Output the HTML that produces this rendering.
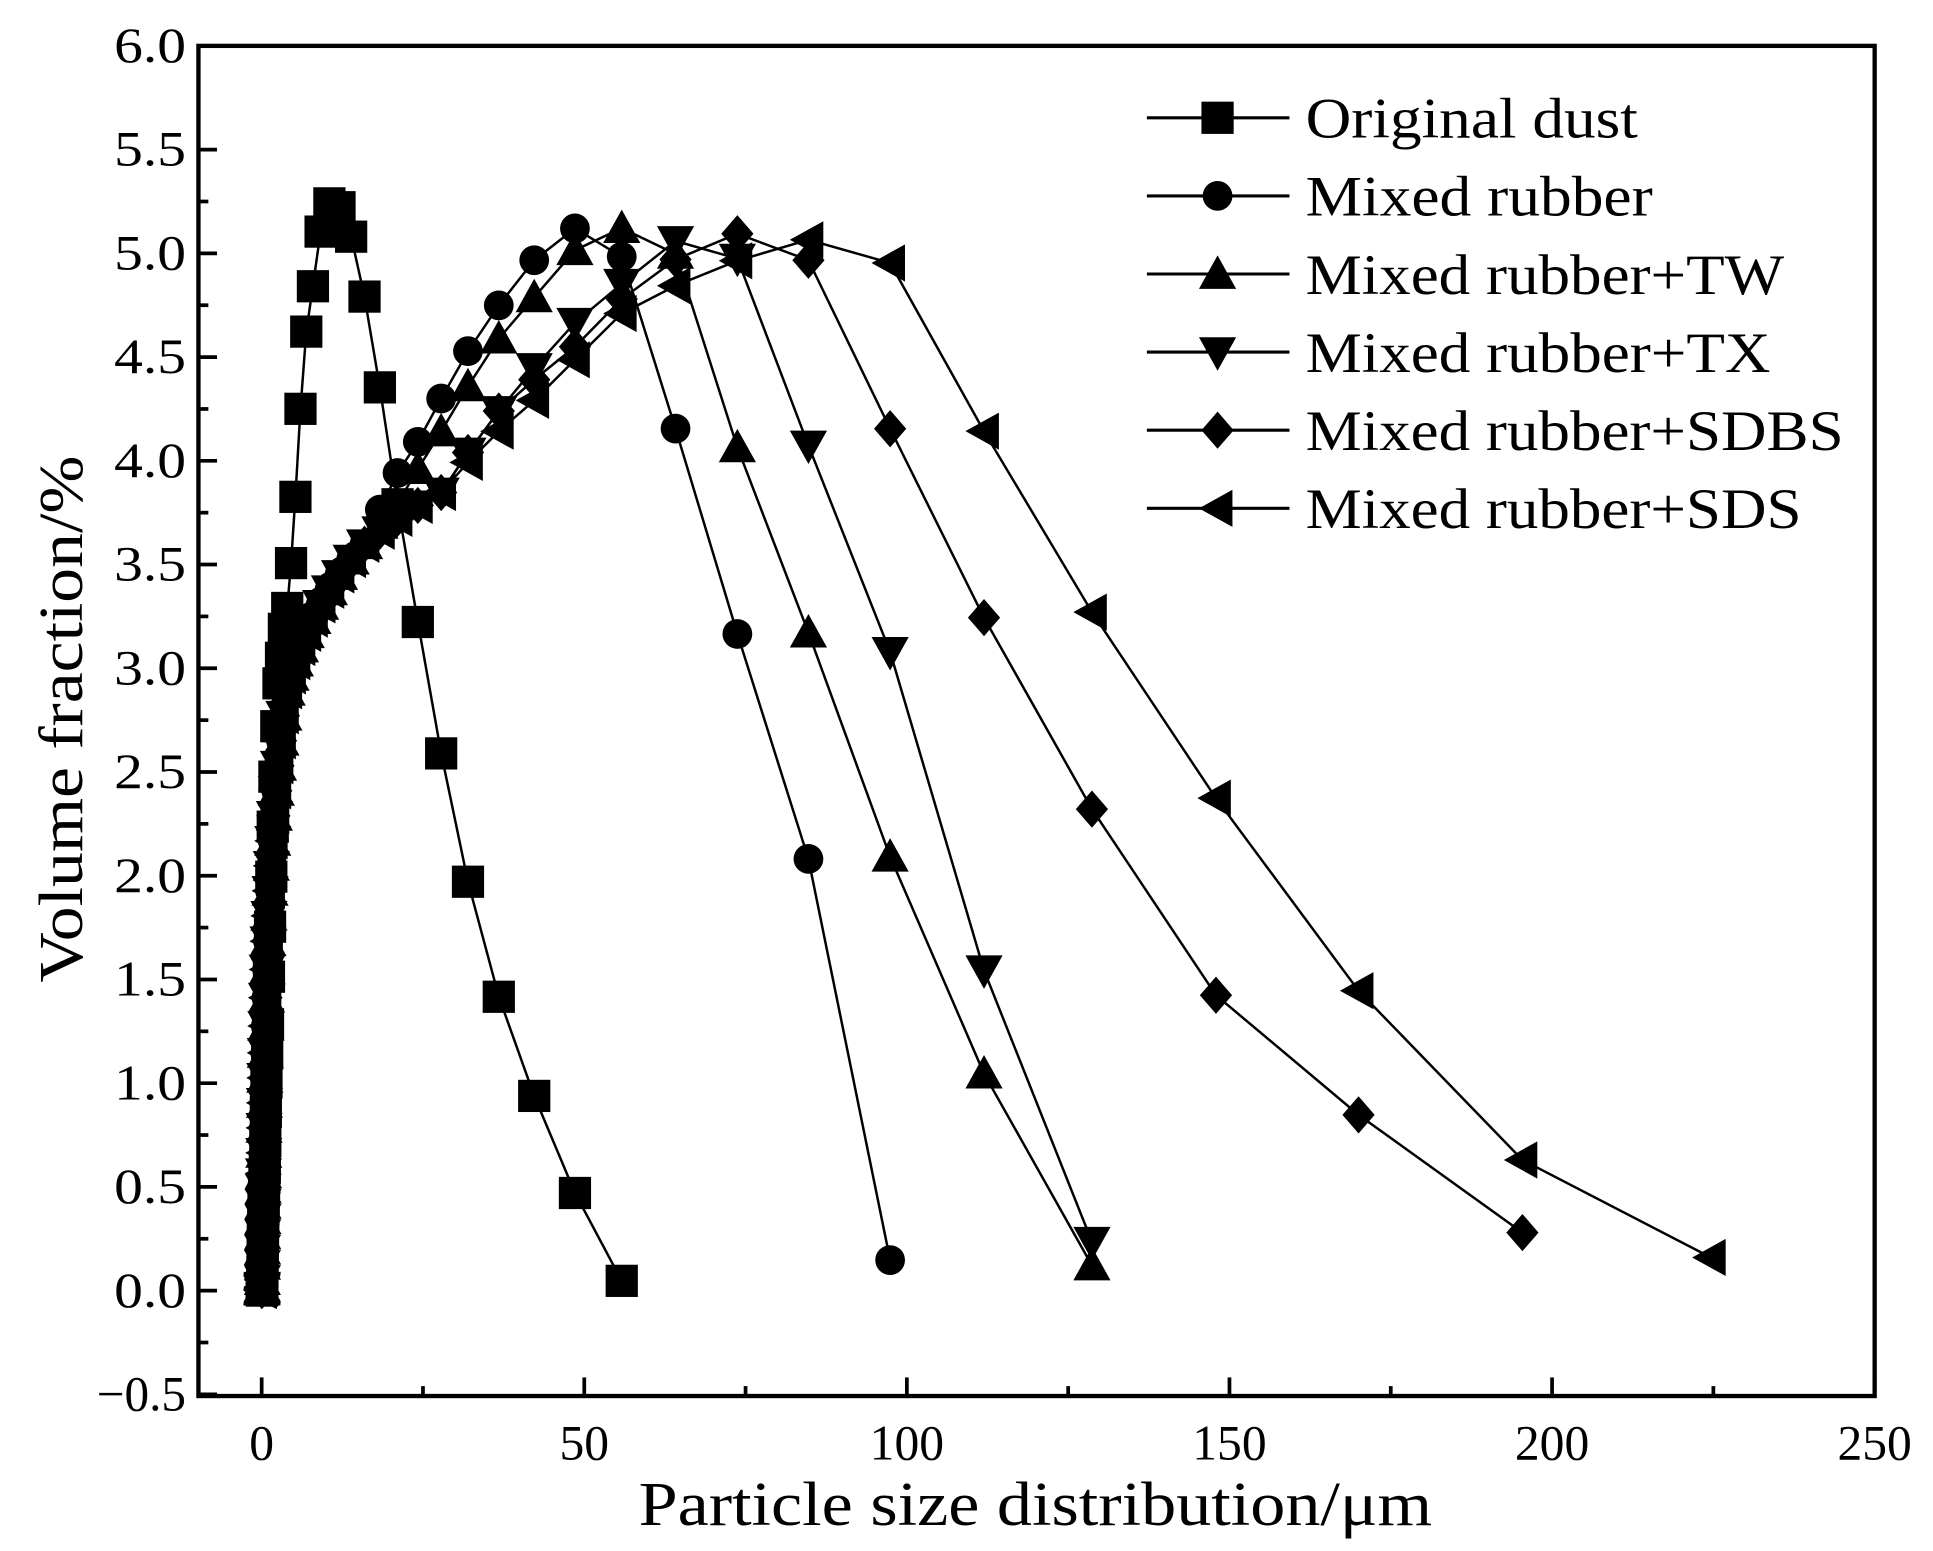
<!DOCTYPE html>
<html><head><meta charset="utf-8"><style>html,body{margin:0;padding:0;background:#fff}svg{display:block}</style></head>
<body>
<svg id="s" xmlns="http://www.w3.org/2000/svg" width="1933" height="1551" viewBox="0 0 1559 1251" font-family="'Liberation Serif', serif">
<rect width="1559" height="1251" fill="#fff"/>
<g id="plot"></g>
<rect x="160" y="37" width="1352" height="1089" fill="none" stroke="#000" stroke-width="3.5"/>
<g id="axes" stroke="#000" stroke-width="3"></g>
<g font-size="40" text-anchor="end" id="ylab"></g>
<g font-size="40" text-anchor="middle" id="xlab"></g>
<text x="835" y="1230" font-size="50" text-anchor="middle" textLength="640" lengthAdjust="spacingAndGlyphs">Particle size distribution/μm</text>
<text transform="translate(66,580) rotate(-90)" font-size="50" text-anchor="middle" textLength="425" lengthAdjust="spacingAndGlyphs">Volume fraction/%</text>
<g id="legend" font-size="46"></g>
</svg>
<script>
var NS="http://www.w3.org/2000/svg";
function X(v){return 211+v*5.204;}
function Y(v){return 1041-v*167.33;}
function el(tag,attrs,parent){var e=document.createElementNS(NS,tag);for(var k in attrs)e.setAttribute(k,attrs[k]);parent.appendChild(e);return e;}
var axes=document.getElementById('axes');
for(var i=0;i<=13;i++){var v=-0.5+i*0.5;var y=Y(v);el('line',{x1:160,y1:y,x2:175,y2:y},axes);
 var t=el('text',{x:150,y:y+13,textLength:(v<0?72:58),lengthAdjust:'spacingAndGlyphs'},document.getElementById('ylab'));t.textContent=(v<0?'\u22120.5':v.toFixed(1));}
for(var i=0;i<12;i++){var y=Y(-0.25+i*0.5);el('line',{x1:160,y1:y,x2:168,y2:y},axes);}
for(var v=0;v<=250;v+=25){var x=X(v);var maj=v%50===0;el('line',{x1:x,y1:1126,x2:x,y2:maj?1111:1118},axes);
 if(maj)el('text',{x:x,y:1177},document.getElementById('xlab')).textContent=v;}
var sizes=[];for(var k=0;k<70;k++){var s=224.6/Math.pow(1.1494,k);if(s<0.03)break;sizes.push(s);}
function interp(anch,x){var lx=Math.log(x);if(x<=anch[0][0])return anch[0][1]*Math.max(0,(lx-Math.log(0.03))/(Math.log(anch[0][0])-Math.log(0.03)));
 for(var i=1;i<anch.length;i++){if(x<=anch[i][0]*1.001){var a=anch[i-1],b=anch[i];var t=(lx-Math.log(a[0]))/(Math.log(b[0])-Math.log(a[0]));return a[1]+t*(b[1]-a[1]);}}return anch[anch.length-1][1];}
var low=[[0.1,0.02],[0.3,0.6],[0.6,1.2],[1,1.7],[2,2.3],[4,2.9],[10,3.35],[16,3.6]];
var series=[
 {m:'sq',max:56.6,a:[[0.1,0.02],[0.5,0.6],[1,1.3],[2,2.5],[2.5,2.89],[3.1,3.08],[3.65,3.25],[4.2,3.32],[4.8,3.63],[5.5,3.94],[6.1,4.3],[6.9,4.62],[8.3,4.91],[9.2,5.12],[10.6,5.25],[12.2,5.22],[14.0,5.07],[16.1,4.77],[18.4,4.34],[24.4,3.19],[28,2.56],[32.2,1.94],[37,1.39],[42.6,0.91],[49,0.44],[56.5,0.01]]},
 {m:'ci',max:98,a:low.concat([[18.4,3.77],[21.2,3.95],[24.4,4.10],[28,4.31],[32.2,4.54],[37,4.76],[42.6,4.98],[49,5.13],[56.5,4.97],[64.6,4.11],[74.2,3.12],[85.3,2.03],[97.8,0.09]])},
 {m:'tu',max:129,a:low.concat([[21.2,3.8],[24.4,3.97],[28,4.15],[32.2,4.37],[37,4.6],[42.6,4.8],[49,5.03],[56.5,5.13],[64.6,4.99],[74.2,4.02],[85.3,3.13],[97.8,2.06],[112.2,1.03],[128.9,0.11]])},
 {m:'td',max:129,a:low.concat([[28,3.85],[32.2,4.05],[37,4.25],[42.6,4.46],[49,4.68],[56.5,4.87],[64.6,5.07],[74.2,4.97],[85.3,4.03],[97.8,3.05],[112.2,1.52],[128.9,0.22]])},
 {m:'di',max:196,a:low.concat([[28,3.85],[32.2,4.05],[37,4.25],[42.6,4.4],[49,4.56],[56.5,4.8],[64.6,4.98],[74.2,5.10],[85.3,4.96],[97.8,4.13],[112.2,3.23],[128.9,2.31],[148,1.42],[169.9,0.85],[195.4,0.28]])},
 {m:'tl',max:225,a:low.concat([[28,3.85],[32.2,4.0],[37,4.15],[42.6,4.3],[49,4.5],[56.5,4.73],[64.6,4.85],[74.2,4.97],[85.3,5.07],[97.8,4.95],[112.2,4.13],[128.9,3.26],[148,2.37],[169.9,1.45],[195.4,0.63],[224.6,0.16]])}
];
function marker(m,x,y,g,sc){sc=sc||1;var r=13*sc;
 if(m==='sq')el('rect',{x:x-r,y:y-r,width:2*r,height:2*r},g);
 else if(m==='ci')el('circle',{cx:x,cy:y,r:12*sc},g);
 else if(m==='tu')el('polygon',{points:(x)+','+(y-15*sc)+' '+(x-15*sc)+','+(y+12*sc)+' '+(x+15*sc)+','+(y+12*sc)},g);
 else if(m==='td')el('polygon',{points:(x)+','+(y+15*sc)+' '+(x-15*sc)+','+(y-12*sc)+' '+(x+15*sc)+','+(y-12*sc)},g);
 else if(m==='di')el('polygon',{points:x+','+(y-15*sc)+' '+(x+13*sc)+','+y+' '+x+','+(y+15*sc)+' '+(x-13*sc)+','+y},g);
 else if(m==='tl')el('polygon',{points:(x-15*sc)+','+y+' '+(x+12*sc)+','+(y-15*sc)+' '+(x+12*sc)+','+(y+15*sc)},g);}
var plot=document.getElementById('plot');
series.forEach(function(s){var pts=[];var ss=sizes.slice().reverse();
 ss.forEach(function(x0){if(x0>s.max)return;var y=interp(s.a,x0);pts.push([X(x0),Y(y)]);});
 var d=pts.map(function(p){return p[0].toFixed(1)+','+p[1].toFixed(1);}).join(' ');
 el('polyline',{points:d,fill:'none',stroke:'#000','stroke-width':2},plot);
 var g=el('g',{fill:'#000'},plot);pts.forEach(function(p){marker(s.m,p[0],p[1],g);});});
var lg=document.getElementById('legend');var names=['Original dust','Mixed rubber','Mixed rubber+TW','Mixed rubber+TX','Mixed rubber+SDBS','Mixed rubber+SDS'];
var tl=[268,280,386,375,434,400];
names.forEach(function(n,i){var y=95+i*63;el('line',{x1:925,y1:y,x2:1040,y2:y,stroke:'#000','stroke-width':2.5},lg);var g=el('g',{fill:'#000'},lg);marker(series[i].m,982,y,g,1);
 var t=el('text',{x:1053,y:y+16,textLength:tl[i],lengthAdjust:'spacingAndGlyphs'},lg);t.textContent=n;});
</script>
</body></html>
